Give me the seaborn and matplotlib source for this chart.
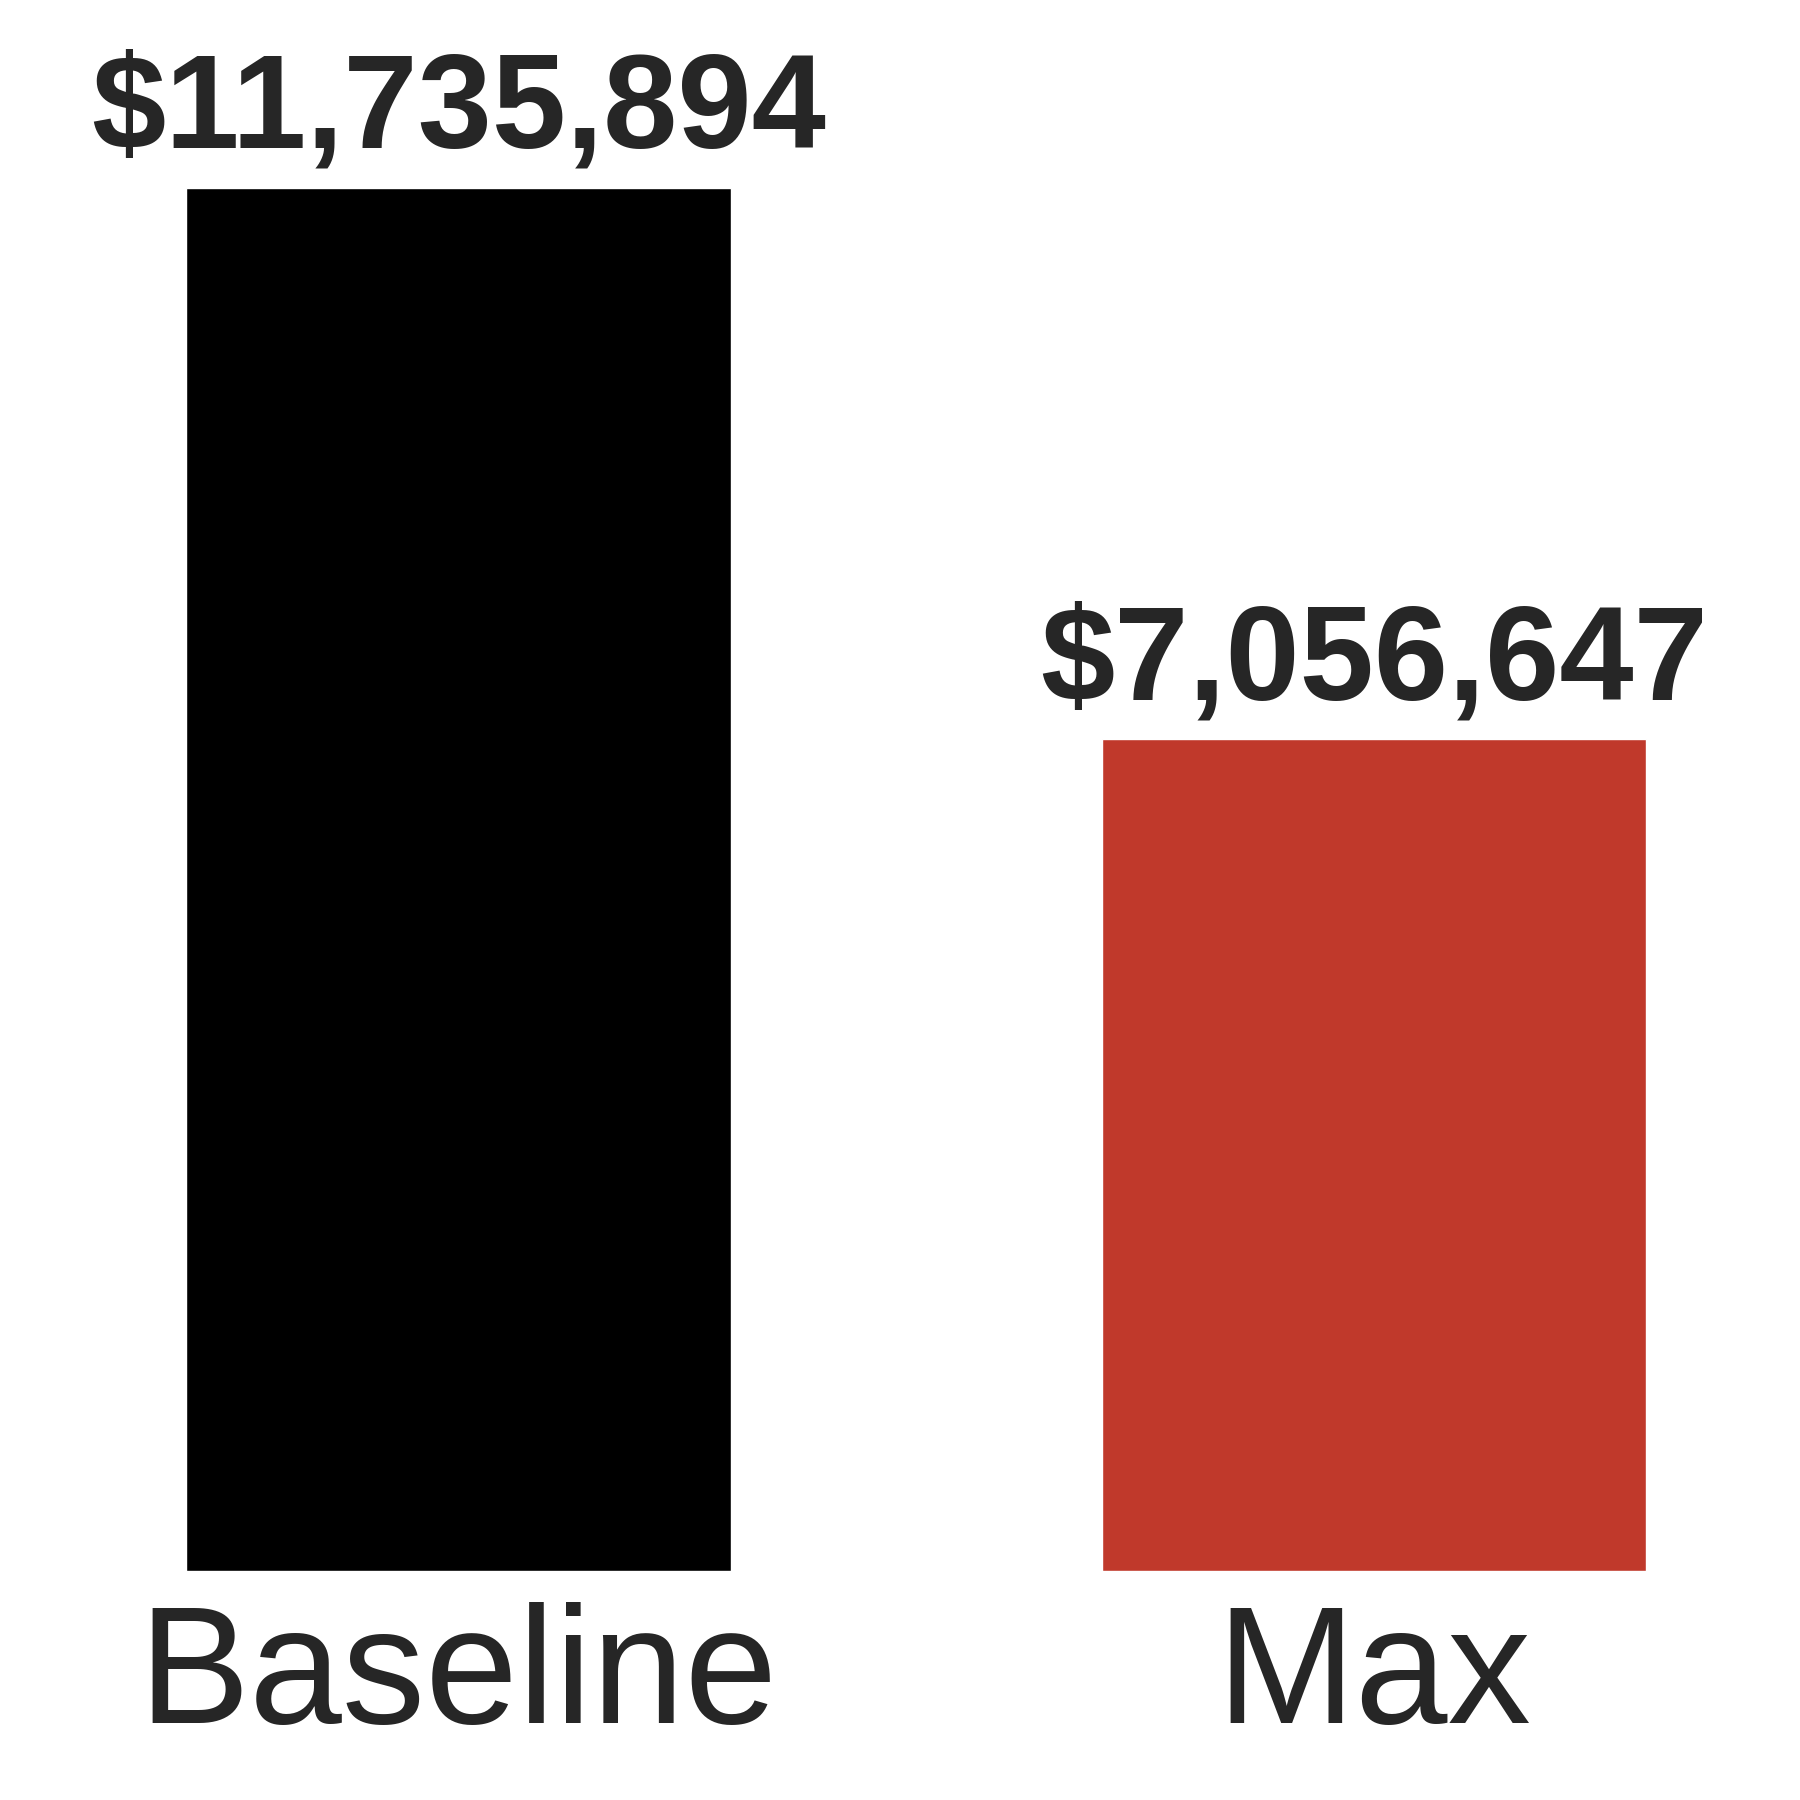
import matplotlib
matplotlib.use("Agg")
import matplotlib.pyplot as plt
import seaborn as sns
import pandas as pd

categories = ["Baseline", "Max"]
values = [11735894, 7056647]
value_labels = ["$11,735,894", "$7,056,647"]
bar_colors = ["#000000", "#C0392B"]

sns.set_theme(style="white")
plt.rcParams["font.family"] = ["Liberation Sans", "DejaVu Sans"]

df = pd.DataFrame({"cat": categories, "val": values})

fig = plt.figure(figsize=(18, 18), dpi=100)
ax = fig.add_axes([0, 229 / 1800, 1, 1 - 229 / 1800])
sns.barplot(data=df, x="cat", y="val", hue="cat", palette=bar_colors,
            width=0.595, legend=False, ax=ax, saturation=1)

ax.set_xlim(-0.5008, 1.4653)
ax.set_ylim(0, 11735894 * 1571 / 1383)

for i, (v, lab) in enumerate(zip(values, value_labels)):
    ax.annotate(lab, xy=(i, v), xytext=(0, 29), textcoords="offset points",
                ha="center", va="baseline", fontsize=96, fontweight="bold",
                color="#262626")

ax.set_xlabel("")
ax.set_ylabel("")
ax.set_yticks([])
ax.tick_params(axis="x", length=0, pad=22, labelsize=120, colors="#262626")
for s in ax.spines.values():
    s.set_visible(False)

fig.savefig("out.png", dpi=100)
